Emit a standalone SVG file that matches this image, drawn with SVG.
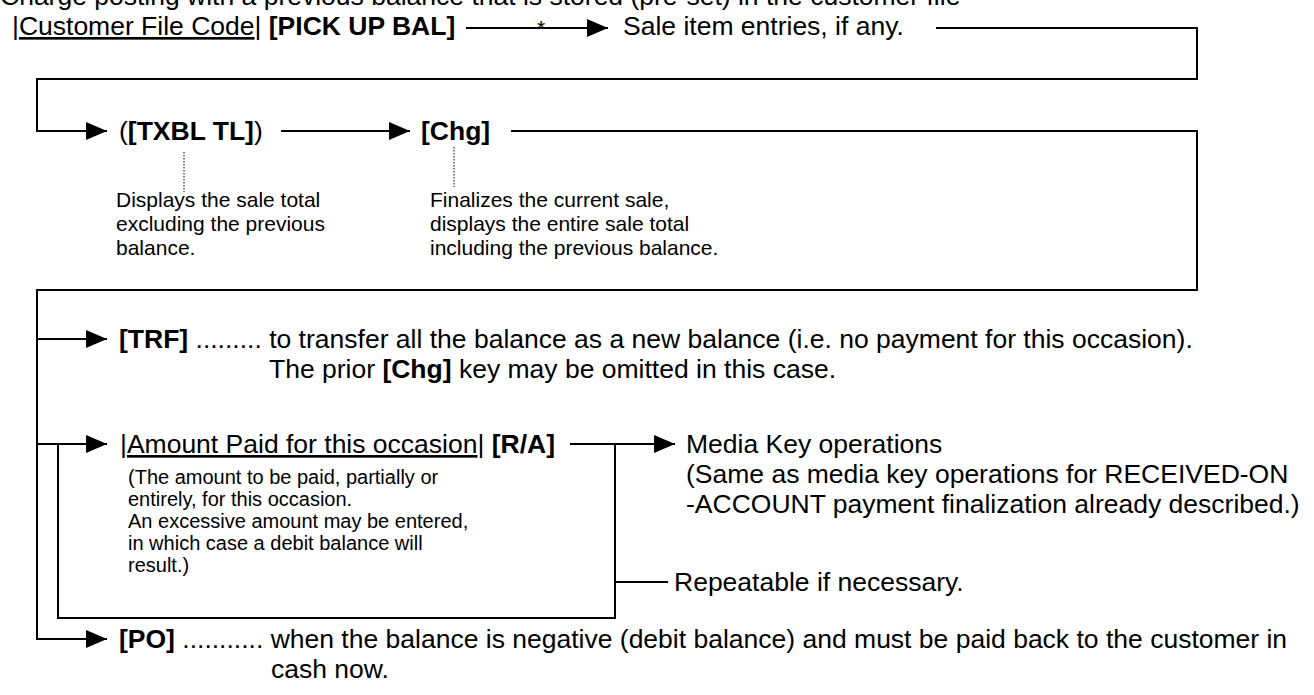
<svg xmlns="http://www.w3.org/2000/svg" width="1314" height="695" viewBox="0 0 1314 695">
<style>
text{font-family:"Liberation Sans",Arial,sans-serif;fill:#000}
.t{font-size:26.5px}
.s{font-size:21px}
.r{font-size:20px}
.b{font-weight:bold}
.u{text-decoration:underline}
.ln{stroke:#000;stroke-width:2;fill:none}
.dot{stroke:#000;stroke-width:1;stroke-dasharray:1.5 1.5;fill:none}
</style>
<defs>
<marker id="ah" viewBox="0 0 21 18" refX="21" refY="9" markerWidth="21" markerHeight="18" markerUnits="userSpaceOnUse" orient="auto">
<path d="M0,0 L21,9 L0,18 Z" fill="#000"/>
</marker>
</defs>
<rect width="1314" height="695" fill="#fff"/>
<g id="title"><text class="t" x="0" y="5">Charge posting with a previous balance that is stored (pre-set) in the customer file</text></g>
<g id="n-start"><text class="t" x="12" y="35">|<tspan class="u">Customer File Code</tspan>| <tspan class="b">[PICK UP BAL]</tspan></text></g>
<g id="n-star"><text class="s" x="537" y="35">*</text></g>
<g id="n-sale"><text class="t" x="623" y="35">Sale item entries, if any.</text></g>
<g id="n-txbl"><text class="t" x="119" y="140">(<tspan class="b">[TXBL TL]</tspan>)</text>
<text class="s" x="116" y="207">Displays the sale total</text>
<text class="s" x="116" y="231">excluding the previous</text>
<text class="s" x="116" y="255">balance.</text></g>
<g id="n-chg"><text class="t b" x="421" y="140">[Chg]</text>
<text class="s" x="430" y="207">Finalizes the current sale,</text>
<text class="s" x="430" y="231">displays the entire sale total</text>
<text class="s" x="430" y="255">including the previous balance.</text></g>
<g id="n-trf"><text class="t" x="119" y="348"><tspan class="b">[TRF]</tspan> ......... to transfer all the balance as a new balance (i.e. no payment for this occasion).</text>
<text class="t" x="269" y="378">The prior <tspan class="b">[Chg]</tspan> key may be omitted in this case.</text></g>
<g id="n-ra"><text class="t" x="120" y="453">|<tspan class="u">Amount Paid for this occasion</tspan>| <tspan class="b">[R/A]</tspan></text>
<text class="r" x="128" y="484">(The amount to be paid, partially or</text>
<text class="r" x="128" y="506">entirely, for this occasion.</text>
<text class="r" x="128" y="528">An excessive amount may be entered,</text>
<text class="r" x="128" y="550">in which case a debit balance will</text>
<text class="r" x="128" y="572">result.)</text></g>
<g id="n-media"><text class="t" x="686" y="453">Media Key operations</text>
<text class="t" x="686" y="483">(Same as media key operations for RECEIVED-ON</text>
<text class="t" x="686" y="513">-ACCOUNT payment finalization already described.)</text></g>
<g id="n-repeat"><text class="t" x="674" y="591">Repeatable if necessary.</text></g>
<g id="n-po"><text class="t" x="119" y="648"><tspan class="b">[PO]</tspan> ........... when the balance is negative (debit balance) and must be paid back to the customer in</text>
<text class="t" x="271" y="678">cash now.</text></g>
<g id="connectors">
<path class="ln" d="M466,28 H608" marker-end="url(#ah)"/>
<path class="ln" d="M936,28 H1197 V79 H37 V131 H107" marker-end="url(#ah)"/>
<path class="ln" d="M281,131 H410" marker-end="url(#ah)"/>
<path class="ln" d="M511,131 H1197 V290 H37 V639 H107" marker-end="url(#ah)"/>
<path class="ln" d="M37,339 H107" marker-end="url(#ah)"/>
<path class="ln" d="M37,444 H107" marker-end="url(#ah)"/>
<path class="ln" d="M58,444 V618 H615 V444"/>
<path class="ln" d="M570,444 H675" marker-end="url(#ah)"/>
<path class="ln" d="M615,582 H668"/>
<path class="dot" d="M184,152 V192"/>
<path class="dot" d="M454,147 V187"/>
</g>
</svg>
